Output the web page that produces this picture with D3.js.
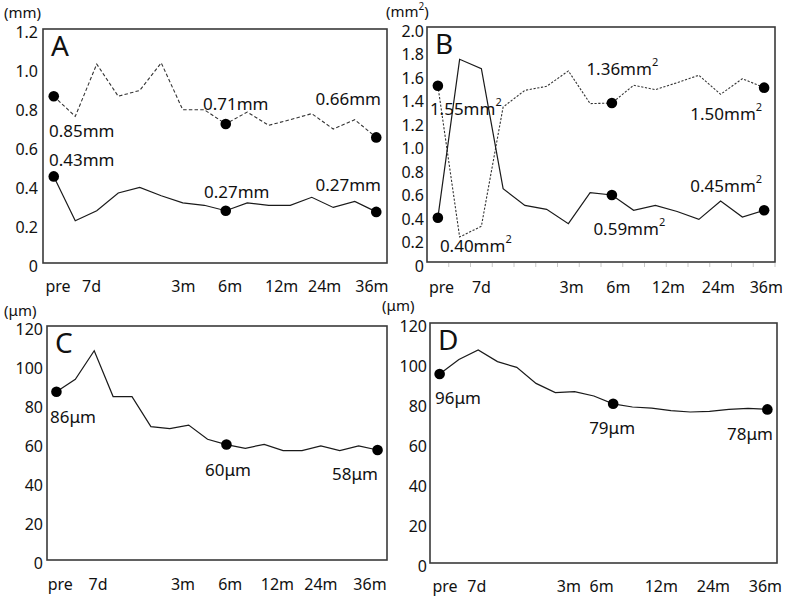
<!DOCTYPE html>
<html><head><meta charset="utf-8">
<script src="https://cdn.jsdelivr.net/npm/d3@7"></script>
<style>body{margin:0;background:#fff}svg{display:block}text{font-family:"Noto Sans",sans-serif;fill:#111}</style>
</head><body><svg id="c" width="790" height="596"></svg>
<script>
// ---- data ----
const xTickLabels = ["pre","7d","3m","6m","12m","24m","36m"];
const tickPosA = [0.2,1.76,6.03,8.2,10.6,12.6,14.8];
const tickPosB = [0.17,2.0,6.15,8.3,10.6,12.9,15.1];
const tickPosC = [0.2,2.2,6.7,9.2,11.7,14.0,16.6];
const tickPosD = [0.28,1.93,6.7,8.4,11.5,14.2,16.9];

const aDashed = [0.855,0.752,1.02,0.855,0.885,1.026,0.786,0.786,0.713,0.774,0.706,0.735,0.766,0.687,0.735,0.644];
const aSolid  = [0.444,0.217,0.268,0.359,0.388,0.345,0.308,0.296,0.268,0.308,0.296,0.296,0.337,0.285,0.316,0.262];
const bSolid  = [0.377,1.725,1.645,0.624,0.482,0.448,0.326,0.59,0.57,0.44,0.482,0.43,0.363,0.519,0.383,0.44];
const bDashed = [1.50,0.213,0.304,1.319,1.461,1.495,1.626,1.348,1.353,1.504,1.467,1.526,1.589,1.427,1.56,1.484];
const cSolid  = [86.3,92.7,107.3,83.8,83.8,68.4,67.4,69.2,61.9,59.2,57.3,59.3,56.1,56.1,58.5,56.1,58.5,56.4];
const dSolid  = [94.5,101.8,106.5,100.7,97.8,89.8,85.2,85.7,83.5,79.6,78.0,77.4,76.2,75.5,75.8,76.8,77.3,76.8];

const yTicksA = [0,0.2,0.4,0.6,0.8,1.0,1.2];
const yTicksB = [0,0.2,0.4,0.6,0.8,1.0,1.2,1.4,1.6,1.8,2.0];
const yTicksC = [0,20,40,60,80,100,120];

const markedIdx16 = [0,8,15];
const markedIdx18 = [0,9,17];

// annotation labels: [series, index, main text, superscript]
const annA = [["d",0,"0.85mm",""],["s",0,"0.43mm",""],["d",8,"0.71mm",""],["d",15,"0.66mm",""],["s",8,"0.27mm",""],["s",15,"0.27mm",""]];
const annB = [["d",0,"1.55mm","2"],["s",0,"0.40mm","2"],["d",8,"1.36mm","2"],["d",15,"1.50mm","2"],["s",8,"0.59mm","2"],["s",15,"0.45mm","2"]];
const annC = [["s",0,"86μm",""],["s",9,"60μm",""],["s",17,"58μm",""]];
const annD = [["s",0,"96μm",""],["s",9,"79μm",""],["s",17,"78μm",""]];

// ---- layout (pixel offsets for annotations: dx, dy, anchor) ----
const offA = [[-4.75,33.7,"start"],[-4.75,-17.4,"start"],[-22.75,-21,"start"],[4.75,-39.4,"end"],[-21.75,-19.7,"start"],[4.75,-28,"end"]];
const offB = [[-8,22.5,"start"],[2,27.6,"start"],[-25.5,-34.7,"start"],[-2,25.7,"end"],[-18.5,33,"start"],[-2,-25,"end"]];
const offC = [[-6.4,24.3,"start"],[-21.4,24.4,"start"],[0.4,23,"end"]];
const offD = [[-4.6,23,"start"],[-24,23,"start"],[5.6,23.6,"end"]];

const svg = d3.select("#c");

function panel(o){
  const n = o.series[0].values.length;
  const x = d3.scaleBand().domain(d3.range(n)).range([o.left,o.right]);
  const xc = i => x(i) + x.bandwidth()/2;
  const xf = p => o.left + x.step()*(p+0.5);
  const y = d3.scaleLinear().domain(o.ydom).range([o.bottom,o.top]);
  const g = svg.append("g");
  g.append("rect").attr("x",o.left).attr("y",o.top).attr("width",o.right-o.left).attr("height",o.bottom-o.top)
    .attr("fill","none").attr("stroke","#3a3a3a").attr("stroke-width",1.6);
  g.selectAll(".yt").data(o.yticks).join("text")
    .attr("x",o.ylabX).attr("y",d=>y(d)+o.ylabDy).attr("text-anchor","end").attr("dominant-baseline","central")
    .attr("font-size",16).text(o.yfmt);
  if(o.minorTicks){
    g.selectAll(".mt").data(d3.range(1,n+1)).join("line")
      .attr("x1",i=>o.left+x.step()*i).attr("x2",i=>o.left+x.step()*i)
      .attr("y1",o.bottom+1).attr("y2",o.bottom+5).attr("stroke","#c8c8c8").attr("stroke-width",1);
  }
  g.selectAll(".xt").data(xTickLabels).join("text")
    .attr("x",(d,i)=>xf(o.tickPos[i])).attr("y",o.xlabY).attr("text-anchor","middle").attr("dominant-baseline","central")
    .attr("font-size",16).text(d=>d);
  const line = d3.line().x((d,i)=>xc(i)).y(d=>y(d));
  o.series.forEach(s=>{
    g.append("path").attr("d",line(s.values)).attr("fill","none")
      .attr("stroke",s.dashed?"#333":"#1a1a1a").attr("stroke-width",s.dashed?1.1:1.2)
      .attr("stroke-dasharray",s.dashed?o.dash:null).attr("stroke-linejoin","miter");
  });
  o.series.forEach(s=>{
    g.selectAll(null).data(o.marked).join("circle")
      .attr("cx",i=>xc(i)).attr("cy",i=>y(s.values[i])).attr("r",5.3).attr("fill","#000");
  });
  o.ann.forEach((a,k)=>{
    const s = o.series.find(q=>q.key===a[0]);
    const off = o.off[k];
    const t = g.append("text").attr("x",xc(a[1])+off[0]).attr("y",y(s.values[a[1]])+off[1])
      .attr("text-anchor",off[2]).attr("dominant-baseline","central").attr("font-size",17);
    t.append("tspan").text(a[2]);
    if(a[3]) t.append("tspan").attr("font-size",11).attr("dy",-7).text(a[3]);
  });
  g.append("text").attr("x",o.left+8).attr("y",o.top+27).attr("font-size",28).text(o.letter);
  const u = g.append("text").attr("x",o.unitX).attr("y",o.unitY).attr("dominant-baseline","central").attr("font-size",15);
  u.append("tspan").text(o.unit[0]);
  if(o.unit[1]){ u.append("tspan").attr("font-size",10).attr("dy",-5).text(o.unit[1]); u.append("tspan").attr("dy",5).text(o.unit[2]); }
}

const fmtDec = d => d===0 ? "0" : d3.format(".1f")(d);
const fmtInt = d => String(d);

panel({letter:"A",left:43,right:387,top:29,bottom:263,ydom:[0,1.2],yticks:yTicksA,yfmt:fmtDec,ylabX:38,ylabDy:2.5,xlabY:286,
  tickPos:tickPosA,series:[{key:"d",values:aDashed,dashed:true},{key:"s",values:aSolid}],marked:markedIdx16,
  ann:annA,off:offA,dash:"3.5,2.2",unit:["(mm)"],unitX:4,unitY:12});
panel({letter:"B",left:427,right:775,top:27,bottom:262,ydom:[0,2.0],yticks:yTicksB,yfmt:fmtDec,ylabX:424,ylabDy:3.5,xlabY:287,
  tickPos:tickPosB,series:[{key:"d",values:bDashed,dashed:true},{key:"s",values:bSolid}],marked:markedIdx16,
  ann:annB,off:offB,dash:"2.2,1.6",minorTicks:true,unit:["(mm","2",")"],unitX:386,unitY:11});
panel({letter:"C",left:47,right:387,top:326,bottom:560,ydom:[0,120],yticks:yTicksC,yfmt:fmtInt,ylabX:43,ylabDy:2.5,xlabY:584,
  tickPos:tickPosC,series:[{key:"s",values:cSolid}],marked:markedIdx18,
  ann:annC,off:offC,unit:["(μm)"],unitX:4,unitY:310});
panel({letter:"D",left:430,right:777,top:323,bottom:563,ydom:[0,120],yticks:yTicksC,yfmt:fmtInt,ylabX:427,ylabDy:2.5,xlabY:586,
  tickPos:tickPosD,series:[{key:"s",values:dSolid}],marked:markedIdx18,
  ann:annD,off:offD,unit:["(μm)"],unitX:382,unitY:305});
</script></body></html>
